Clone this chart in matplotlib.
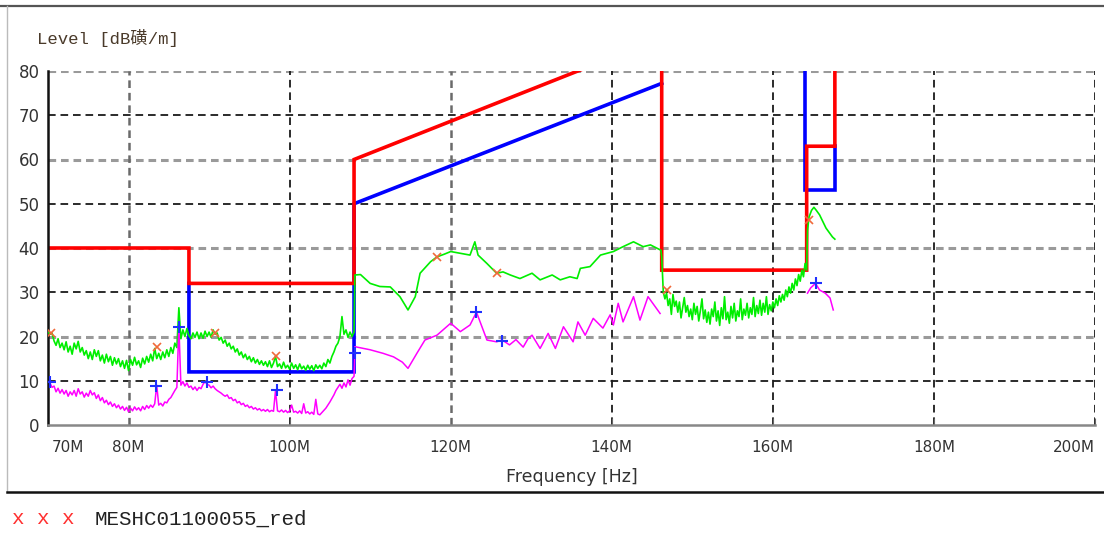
import numpy as np
import matplotlib
matplotlib.use("Agg")
import matplotlib.pyplot as plt
from matplotlib.lines import Line2D
import matplotlib.transforms as mtrans

# ---------------- data (MHz, dB) ----------------
# limit lines
red_limit_f = [70, 87.5, 87.5, 108, 108, 146.2, 146.2, 164.2, 164.2, 167.7, 167.7]
red_limit_v = [40, 40, 32, 32, 60, 87.5, 35, 35, 63, 63, 90]
blue_limit1_f = [87.5, 87.5, 108, 108, 146.2]
blue_limit1_v = [32, 12, 12, 50, 77.2]
blue_limit2_f = [164.0, 164.0, 167.7, 167.7]
blue_limit2_v = [90, 53, 53, 63]

# green (peak) trace, noisy part 70..108 MHz, 0.25 MHz step
green1_v = [21, 20.5, 20.8, 19, 18, 19.5, 17.5, 18.5, 17, 18.8, 16.5, 17.8, 16, 18.5, 17.2, 18.9,
            16.5, 17.5, 15.8, 16.8, 15, 16.5, 14.8, 17, 15.5, 16.8, 14.5, 15.8, 14, 16, 14.3, 15.5,
            13.5, 15.2, 13.8, 15, 13.2, 14.5, 12.8, 14.6, 12.3, 14.8, 13.5, 15.3, 13.6, 14.5, 13, 15.1,
            13.8, 15.5, 14.2, 16, 14.5, 17.3, 15, 16.2, 14.8, 16.5, 15.2, 17, 15.5, 17.5, 16.2, 18.5,
            17.5, 26.5, 19.5, 21.5, 20, 21.8, 20.2, 19.5, 20.8, 19.8, 21, 19.5, 20.8, 19.6, 21.2, 20,
            21, 19.8, 21.5, 20.5, 20.8, 19.2, 19.8, 18.5, 19.2, 17.8, 18.5, 17.2, 17.8, 16.5, 17.2, 15.8,
            16.5, 15.2, 16, 14.8, 15.5, 14.3, 15.2, 14, 14.8, 13.7, 14.5, 13.5, 14.3, 13.2, 14.5, 13,
            14, 15.5, 13.2, 13.8, 12.8, 14.2, 12.9, 13.5, 12.6, 14, 12.8, 13.6, 12.5, 13.8, 12.7, 13.3,
            12.4, 13.5, 12.6, 13.4, 12.3, 13.6, 12.8, 13.5, 12.7, 14, 13.2, 14.8, 14, 15.5, 16.5, 17.8,
            18.5, 20, 24.5, 20.5, 21.5, 19.8, 21, 20, 21]
# green smooth part 108..146 MHz
green2_f = [108.1, 108.8, 110, 111.2, 112.5, 113.7, 114.7, 115.6, 116.2, 117.5, 118.3, 119.2, 120,
            121.2, 122.4, 123, 123.4, 124.5, 125.7, 126.5, 127.4, 128.6, 130.1, 131.1, 132.6, 133.6,
            134.8, 135.7, 136.1, 137.3, 138.6, 140.2, 141.4, 142.7, 143.9, 144.8, 146.1]
green2_v = [33.9, 34.0, 32, 31.3, 31.2, 29, 26, 29, 34.3, 36.9, 38, 38.6, 39.2,
            38.8, 38.4, 41.4, 38.4, 36.5, 34.3, 34.6, 33.9, 33.1, 34.3, 32.8, 33.9, 32.8,
            33.5, 33.1, 35.4, 35.8, 38.4, 39.2, 40.3, 41.4, 40.3, 40.7, 39.5]
# green noisy part 146.2..164.2 MHz, 0.2 MHz step
green3_v = [38, 30, 28.5, 29.8, 27, 28.5, 25, 29.5, 26.8, 28, 25.5, 27.8, 24.2, 26.5, 28.8, 25.5,
            27, 24.5, 26.2, 23.8, 27.5, 25, 26.8, 23.5, 25.8, 28.5, 24, 26, 23.2, 25.5, 22.8, 26.2,
            24.5, 27.8, 23.5, 25.8, 22.5, 26.5, 24, 29, 23.8, 25.5, 23, 26.8, 24.2, 27.5, 23.5, 25.8,
            24.5, 28.5, 23.8, 26.2, 24.8, 27.5, 24.2, 26.5, 25, 28.8, 24.5, 27, 25.2, 28.2, 24.8, 27.5,
            25.5, 29, 25, 27.2, 25.8, 27.8, 26.5, 28.5, 27, 29.2, 27.8, 29.5, 28.2, 30.5, 29, 31.2,
            29.8, 32, 30.5, 33, 31.5, 34, 32.5, 35, 33.5, 36.5, 35]
# green last band
green4_f = [164.3, 164.5, 164.8, 165.1, 165.4, 165.8, 166.2, 166.6, 167.0, 167.4, 167.7]
green4_v = [44, 47, 48.5, 49.2, 48.5, 47.5, 46, 44.5, 43.5, 42.5, 42]

# magenta (average) trace, 70..108 MHz, 0.25 MHz step
mag1_v = [9.8, 9.5, 8.5, 8.8, 7.5, 8.3, 7.2, 8, 7, 7.8, 6.5, 7.5, 6.8, 7.8, 6.5, 8.2,
          7, 7.5, 6.3, 7.2, 6.5, 7.8, 6.8, 7.3, 6, 6.8, 5.5, 6.2, 5, 5.6, 4.6, 5.2,
          4.2, 4.8, 3.9, 4.5, 3.6, 4.2, 3.3, 4, 3, 3.8, 3.2, 4.1, 3.4, 3.9, 3.2, 4.2,
          3.5, 4.4, 3.8, 4.5, 4, 4.8, 9, 4.5, 4.9, 4.3, 5.2, 5, 5.8, 6.2, 7, 7.8,
          8.5, 22.5, 9, 9.8, 8.8, 9.5, 8.5, 8.8, 8, 8.6, 7.8, 8.5, 8.2, 9.2, 9.8, 9.2,
          9, 8.4, 8.8, 8.2, 7.8, 7.5, 7.2, 6.8, 6.5, 6.8, 6, 6.2, 5.5, 5.8, 5, 5.3,
          4.6, 4.9, 4.2, 4.5, 3.9, 4.2, 3.6, 3.9, 3.4, 3.7, 3.2, 3.5, 3.1, 3.5, 3, 3.3,
          3.1, 7.8, 3.2, 3, 3.4, 2.9, 3.3, 2.8, 3.2, 4.5, 2.9, 3.1, 2.7, 3.2, 2.6, 4.8,
          2.7, 3, 2.5, 2.9, 2.4, 5.8, 2.5, 2.3, 2.8, 3.3, 3.8, 4.5, 5.2, 6, 6.8, 7.8,
          8.5, 9.2, 8.3, 9.5, 8.6, 10.2, 9, 10.5, 11]
mag2_f = [108.1, 110, 111.6, 112.9, 114.0, 114.7, 115.8, 116.8, 118.3, 120, 121.2, 122.4, 123.2,
          124.5, 125.7, 126.4, 127.3, 128.1, 129.0, 129.6, 130.1, 131.1, 132.1, 133.0, 134, 135.2,
          135.8, 136.7, 137.7, 138.9, 139.8, 140.2, 140.8, 141.4, 142.7, 143.5, 144.5, 146]
mag2_v = [17.7, 17, 16.2, 15.4, 14.2, 12.8, 16.2, 19.2, 20.3, 23, 21.1, 22.6, 25.5,
          19.2, 18.8, 19.2, 18.1, 19.3, 17.6, 19.5, 20.3, 17.3, 20.7, 17.3, 22.2, 18.8,
          23.3, 20.3, 24.1, 21.9, 24.9, 22.6, 27.5, 23.3, 29, 23.7, 29, 25.2]
mag3_f = [164.3, 164.7, 165.3, 165.8, 166.5, 167.1, 167.5]
mag3_v = [29.8, 31, 32, 30.5, 29.8, 28.7, 26]

# peak markers
xmark_f = [70.4, 83.5, 90.7, 98.3, 118.3, 125.7, 146.9, 164.5]
xmark_v = [20.8, 17.6, 20.8, 15.6, 38, 34.3, 30.5, 46.3]
pmark_f = [70.2, 83.4, 86.3, 89.7, 98.4, 108.1, 123.2, 126.4, 165.3]
pmark_v = [9.7, 8.8, 22.2, 9.7, 7.9, 16.3, 25.5, 19, 32]

xticks = [70, 80, 100, 120, 140, 160, 180, 200]
xtick_labels = ["70M", "80M", "100M", "120M", "140M", "160M", "180M", "200M"]
yticks = [0, 10, 20, 30, 40, 50, 60, 70, 80]

# ---------------- build traces ----------------
green1_f = np.linspace(70, 108, len(green1_v))
green3_f = np.linspace(146.2, 164.2, len(green3_v))
green_f = np.concatenate([green1_f, green2_f, green3_f, green4_f])
green_v = np.concatenate([green1_v, green2_v, green3_v, green4_v])
mag1_f = np.linspace(70, 108, len(mag1_v))
mag_f = np.concatenate([mag1_f, mag2_f, [np.nan], mag3_f])
mag_v = np.concatenate([mag1_v, mag2_v, [np.nan], mag3_v])

# ---------------- figure ----------------
plt.rcParams['lines.scale_dashes'] = False
W, H = 1104, 538
fig = plt.figure(figsize=(W / 100, H / 100), dpi=100)
fig.patch.set_facecolor('white')

ax_l, ax_r, ax_t, ax_b = 48, 1095, 71, 425
ax = fig.add_axes([ax_l / W, 1 - ax_b / H, (ax_r - ax_l) / W, (ax_b - ax_t) / H])
ax.set_xlim(70, 200)
ax.set_ylim(0, 80)

# grid
for y in yticks[1:]:
    if y % 20 == 0:
        ax.axhline(y, color='#9a9a9a', lw=2.2, ls=(0, (5.5, 3.5)), zorder=1)
    else:
        ax.axhline(y, color='#1a1a1a', lw=1.3, ls=(0, (5.5, 3.5)), zorder=1)
for x in xticks[1:]:
    c = '#6a6a6a' if x in (80, 120) else '#1a1a1a'
    lw = 1.8 if x in (80, 120) else 1.3
    ax.axvline(x, color=c, lw=lw, ls=(0, (5.5, 3.5)), zorder=1)

# limits
ax.plot(blue_limit1_f, blue_limit1_v, color='#0000ff', lw=2.6, zorder=2, solid_joinstyle='miter')
ax.plot(blue_limit2_f, blue_limit2_v, color='#0000ff', lw=2.6, zorder=2, solid_joinstyle='miter')
ax.plot(red_limit_f, red_limit_v, color='#ff0000', lw=2.6, zorder=2.5, solid_joinstyle='miter')

# traces
ax.plot(green_f, green_v, color='#00ee00', lw=1.2, zorder=3)
ax.plot(mag_f, mag_v, color='#ff00ff', lw=1.1, zorder=3)
ax.plot(xmark_f, xmark_v, ls='none', marker='x', ms=6, mew=1.2, color='#f06a3a', zorder=4)
ax.plot(pmark_f, pmark_v, ls='none', marker='+', ms=8, mew=1.5, color='#2030ff', zorder=4)

# spines / ticks
for s in ('top', 'right'):
    ax.spines[s].set_visible(False)
ax.spines['left'].set_color('#111111')
ax.spines['left'].set_linewidth(1.8)
ax.spines['bottom'].set_color('#888888')
ax.spines['bottom'].set_linewidth(1.8)
ax.set_xticks(xticks)
ax.set_xticklabels(xtick_labels)
ax.set_yticks(yticks)
ax.tick_params(axis='x', direction='in', length=5, color='#666666', labelsize=11,
               labelcolor='#333333', pad=11)
ax.tick_params(axis='y', length=0, labelsize=12, labelcolor='#333333', pad=6)
labs = ax.get_xticklabels()
labs[0].set_ha('left')
labs[0].set_transform(labs[0].get_transform() + mtrans.ScaledTranslation(4 / 100, 0, fig.dpi_scale_trans))
labs[-1].set_ha('right')

ax.set_xlabel('Frequency [Hz]', fontsize=12.5, color='#333333', labelpad=9)

# y label text at top-left
fig.text(37 / W, 1 - 38 / H, 'Level [dB磺/m]', family=['Liberation Mono', 'Noto Sans CJK SC'],
         fontsize=12.5, color='#4a3a2a', va='center', ha='left')

# frame lines
fig.add_artist(Line2D([0, 1], [1 - 6 / H, 1 - 6 / H], color='#555555', lw=1.6))
fig.add_artist(Line2D([7 / W, 7 / W], [1 - 6 / H, 1 - 492 / H], color='#bbbbbb', lw=1.0))
fig.add_artist(Line2D([7 / W, 1], [1 - 492 / H, 1 - 492 / H], color='#111111', lw=1.8))

# legend text
fig.text(12 / W, 1 - 519 / H, 'x x x', family='Liberation Mono', fontsize=15, color='#ff3030',
         va='center', ha='left')
fig.text(95 / W, 1 - 519 / H, 'MESHC01100055_red', family='Liberation Mono', fontsize=15,
         color='#222222', va='center', ha='left')

fig.savefig('out.png', dpi=100, facecolor='white')
